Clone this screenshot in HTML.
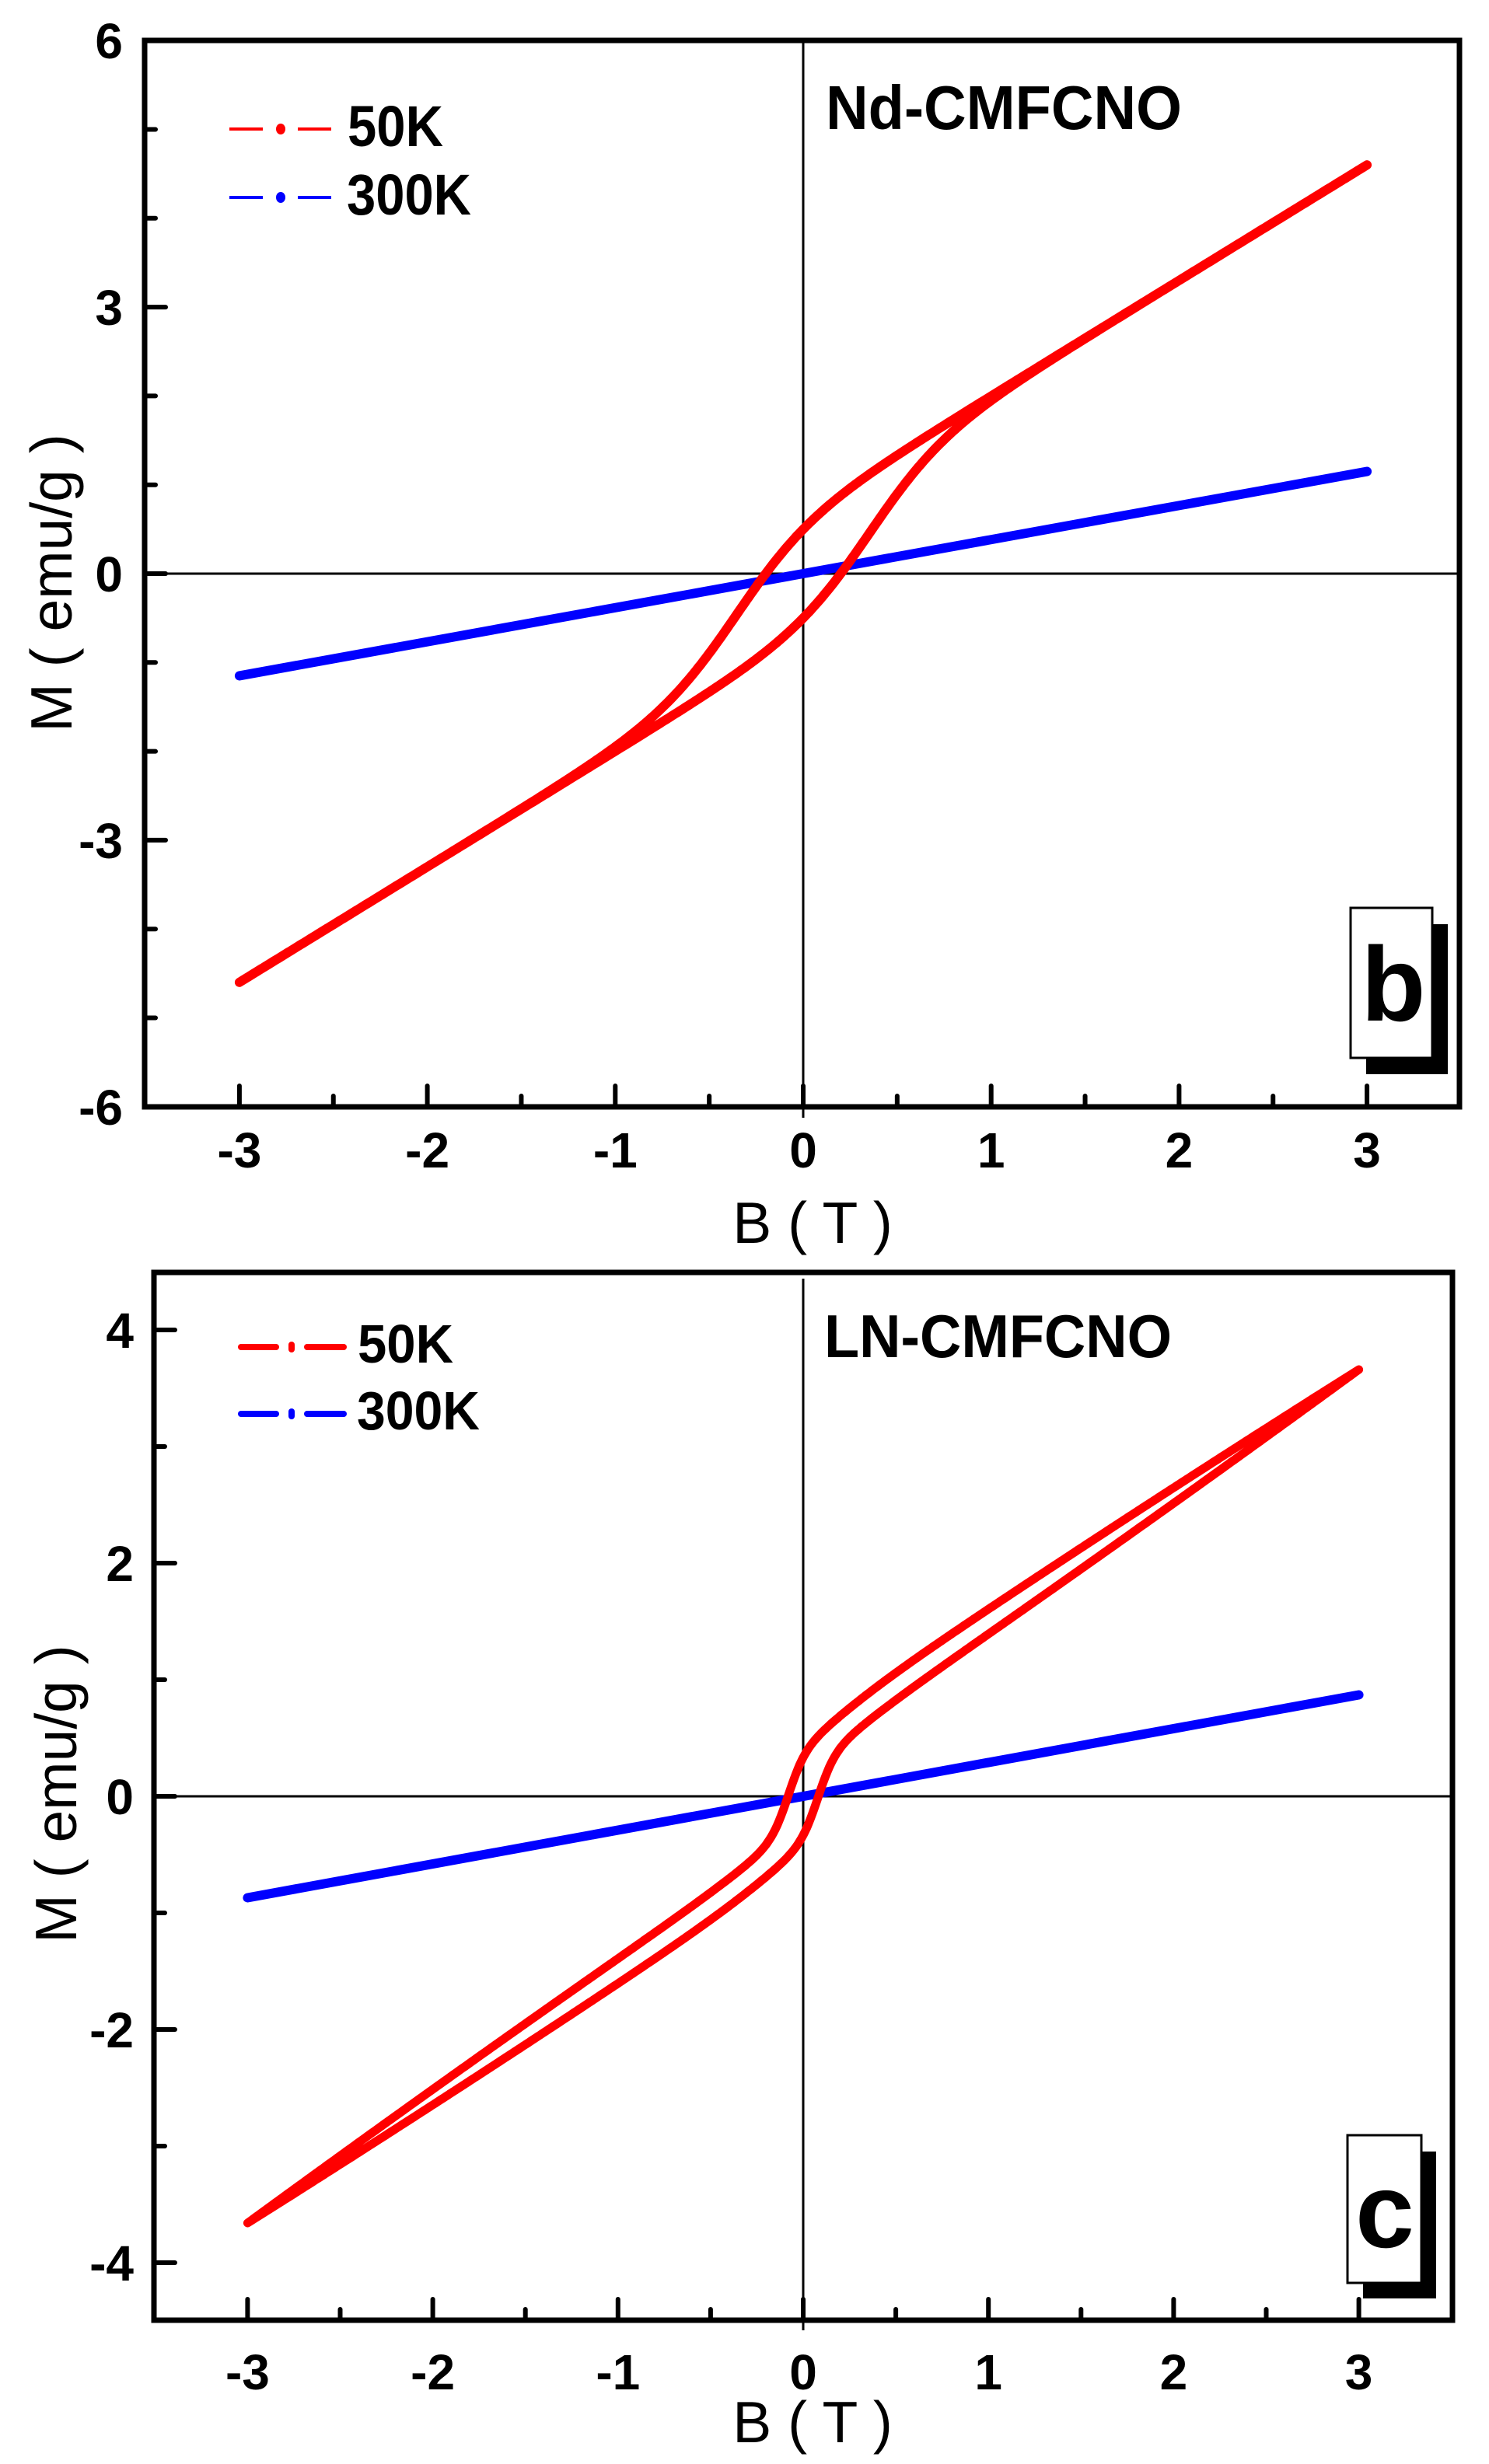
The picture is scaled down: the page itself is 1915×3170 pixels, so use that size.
<!DOCTYPE html>
<html><head><meta charset="utf-8">
<style>
html,body{margin:0;padding:0;background:#fff;}
svg{display:block;}
text{font-family:"Liberation Sans",Arial,sans-serif;}
.b{font-weight:bold;}
</style></head>
<body>
<svg id="s" width="1915" height="3170" viewBox="0 0 1915 3170" xmlns="http://www.w3.org/2000/svg">
<rect width="1915" height="3170" fill="#fff"/>
<!-- Plot 1 -->
<g id="p1">
  <line x1="1033" y1="52" x2="1033" y2="1438" stroke="#000" stroke-width="3"/>
  <line x1="186" y1="738" x2="1877" y2="738" stroke="#000" stroke-width="3"/>
  <path id="b1" fill="none" stroke="#0000ff" stroke-width="12" stroke-linecap="round"/>
  <path id="r1" fill="none" stroke="#ff0000" stroke-width="12" stroke-linejoin="round" stroke-linecap="round"/>
  <g id="t1"></g>
  <rect x="186" y="52" width="1691" height="1372" fill="none" stroke="#000" stroke-width="7"/>
  <line x1="295" y1="166" x2="338" y2="166" stroke="#ff0000" stroke-width="4"/>
  <ellipse cx="361" cy="166" rx="6" ry="7" fill="#ff0000"/>
  <line x1="383" y1="166" x2="426" y2="166" stroke="#ff0000" stroke-width="4"/>
  <text x="447" y="188" class="b" font-size="74" textLength="123" lengthAdjust="spacingAndGlyphs">50K</text>
  <line x1="295" y1="254" x2="338" y2="254" stroke="#0000ff" stroke-width="4"/>
  <ellipse cx="361" cy="254" rx="6" ry="7" fill="#0000ff"/>
  <line x1="383" y1="254" x2="426" y2="254" stroke="#0000ff" stroke-width="4"/>
  <text x="446" y="276" class="b" font-size="74" textLength="160" lengthAdjust="spacingAndGlyphs">300K</text>
  <text x="1062" y="166" class="b" font-size="80" textLength="458" lengthAdjust="spacingAndGlyphs">Nd-CMFCNO</text>
  <rect x="1757" y="1189" width="105" height="193" fill="#000"/>
  <rect x="1737" y="1168" width="105" height="193" fill="#fff" stroke="#000" stroke-width="3"/>
  <text x="1792" y="1313" class="b" font-size="136" text-anchor="middle">b</text>
  <text x="1045" y="1599" font-size="75" text-anchor="middle">B ( T )</text>
  <text transform="translate(92,750) rotate(-90)" font-size="75" text-anchor="middle">M ( emu/g )</text>
</g>
<!-- Plot 2 -->
<g id="p2">
  <line x1="1033" y1="1645" x2="1033" y2="2998" stroke="#000" stroke-width="3"/>
  <line x1="198" y1="2311" x2="1868" y2="2311" stroke="#000" stroke-width="3"/>
  <path id="b2" fill="none" stroke="#0000ff" stroke-width="12" stroke-linecap="round"/>
  <path id="r2" fill="none" stroke="#ff0000" stroke-width="11" stroke-linejoin="round" stroke-linecap="round"/>
  <g id="t2"></g>
  <rect x="198" y="1637" width="1670" height="1348" fill="none" stroke="#000" stroke-width="7"/>
  <line x1="310" y1="1733" x2="355" y2="1733" stroke="#ff0000" stroke-width="8" stroke-linecap="round"/>
  <line x1="375" y1="1730" x2="375" y2="1736" stroke="#ff0000" stroke-width="8" stroke-linecap="round"/>
  <line x1="395" y1="1733" x2="442" y2="1733" stroke="#ff0000" stroke-width="8" stroke-linecap="round"/>
  <text x="460" y="1753" class="b" font-size="70" textLength="123" lengthAdjust="spacingAndGlyphs">50K</text>
  <line x1="310" y1="1819" x2="355" y2="1819" stroke="#0000ff" stroke-width="8" stroke-linecap="round"/>
  <line x1="375" y1="1816" x2="375" y2="1822" stroke="#0000ff" stroke-width="8" stroke-linecap="round"/>
  <line x1="395" y1="1819" x2="442" y2="1819" stroke="#0000ff" stroke-width="8" stroke-linecap="round"/>
  <text x="459" y="1839" class="b" font-size="70" textLength="158" lengthAdjust="spacingAndGlyphs">300K</text>
  <text x="1060" y="1746" class="b" font-size="78" textLength="447" lengthAdjust="spacingAndGlyphs">LN-CMFCNO</text>
  <rect x="1753" y="2768" width="94" height="189" fill="#000"/>
  <rect x="1733" y="2747" width="95" height="190" fill="#fff" stroke="#000" stroke-width="3"/>
  <text x="1781" y="2891" class="b" font-size="136" text-anchor="middle">c</text>
  <text x="1045" y="3142" font-size="75" text-anchor="middle">B ( T )</text>
  <text transform="translate(98,2308) rotate(-90)" font-size="75" text-anchor="middle">M ( emu/g )</text>
</g>
</svg>
<script>
(function(){
var NS="http://www.w3.org/2000/svg";
function el(tag,attrs,parent,txt){var e=document.createElementNS(NS,tag);for(var k in attrs)e.setAttribute(k,attrs[k]);if(txt!==undefined)e.textContent=txt;parent.appendChild(e);return e;}
function tanh(x){var a=Math.exp(2*x);return (a-1)/(a+1);}
function plot(cfg){
  var X=function(b){return cfg.x0+b*cfg.sx;};
  var Y=function(m){return cfg.y0-m*cfg.sy;};
  document.getElementById(cfg.bid).setAttribute("d","M"+X(-3)+" "+Y(-cfg.blue)+" L"+X(3)+" "+Y(cfg.blue));
  var d="",i,B,N=600;
  for(i=0;i<=N;i++){B=3-6*i/N;d+=(i?"L":"M")+X(B).toFixed(1)+" "+Y(cfg.up(B)).toFixed(1)+" ";}
  for(i=0;i<=N;i++){B=-3+6*i/N;d+="L"+X(B).toFixed(1)+" "+Y(-cfg.up(-B)).toFixed(1)+" ";}
  document.getElementById(cfg.rid).setAttribute("d",d);
  var g=document.getElementById(cfg.tid);
  for(i=-6;i<=6;i++){var b=i/2,x=X(b),maj=(i%2===0);
    el("line",{x1:x,y1:cfg.bot,x2:x,y2:cfg.bot-(maj?27:14),stroke:"#000","stroke-width":6,"stroke-linecap":"round"},g);
    if(maj)el("text",{x:x,y:cfg.xlab,"font-size":64,"text-anchor":"middle","class":"b"},g,String(b));
  }
  for(i=0;i<cfg.yt.length;i++){var t=cfg.yt[i],y=Y(t[0]);
    el("line",{x1:cfg.left,y1:y,x2:cfg.left+(t[1]?27:14),y2:y,stroke:"#000","stroke-width":6,"stroke-linecap":"round"},g);
    if(t[1])el("text",{x:cfg.ylabx,y:y+23,"font-size":64,"text-anchor":"end","class":"b"},g,String(t[0]));
  }
}
var yt1=[];for(var v=-6;v<=6;v++)yt1.push([v,v%3===0]);
plot({x0:1033,sx:241.7,y0:738,sy:114.3,bid:"b1",rid:"r1",tid:"t1",blue:1.15,
  up:function(B){return 1.3*B+0.7*tanh((B+0.354)/0.396);},
  bot:1424,left:186,xlab:1502,ylabx:158,yt:yt1});
var yt2=[];for(var v2=-4;v2<=4;v2++)yt2.push([v2,v2%2===0]);
plot({x0:1033,sx:238.2,y0:2311,sy:150,bid:"b2",rid:"r2",tid:"t2",blue:0.87,
  up:function(B){return 1.08*B+0.3*tanh((B+0.08)/0.09)+0.12*tanh(B/0.4)+0.12*(1-(B/3)*(B/3));},
  bot:2985,left:198,xlab:3074,ylabx:172,yt:yt2});
})();
</script>
</body></html>
